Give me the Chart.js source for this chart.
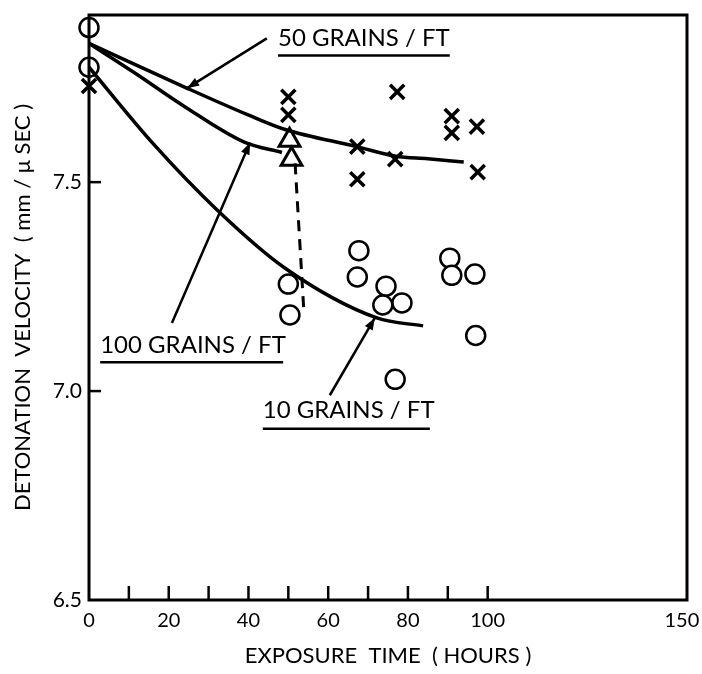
<!DOCTYPE html>
<html>
<head>
<meta charset="utf-8">
<script src="https://cdn.jsdelivr.net/npm/chart.js@4/dist/chart.umd.min.js"></script>
<style>
    html, body { margin: 0; padding: 0; background: #fff; }
    #wrap { width: 702px; height: 674px; }
</style>
</head>
<body>
<div id="wrap"><canvas id="velocity_chart"></canvas></div>
<script>
// measured points, hours vs mm/usec
const circleX = [0, 0, 50, 50.4, 67.7, 67.3, 74.5, 73.7, 78.5, 76.8, 90.5, 91, 96.8, 97];
const circleY = [7.87, 7.775, 7.256, 7.182, 7.336, 7.273, 7.251, 7.206, 7.211, 7.028, 7.318, 7.277, 7.28, 7.133];
const crossX = [0, 50, 50, 67.3, 67.3, 77.3, 76.8, 91, 91, 97.3, 97.5];
const crossY = [7.73, 7.704, 7.661, 7.585, 7.507, 7.716, 7.555, 7.658, 7.618, 7.633, 7.524];
const triangleX = [50.3, 50.8];
const triangleY = [7.60, 7.555];

// fitted curves
const curve50X = [0, 24.1, 39.9, 49.2, 67.2, 77, 85, 94];
const curve50Y = [7.832, 7.727, 7.661, 7.626, 7.585, 7.562, 7.556, 7.548];
const curve100X = [0, 11.5, 24.1, 39.1, 48.4];
const curve100Y = [7.832, 7.761, 7.68, 7.595, 7.571];
const curve10X = [0, 15.8, 32.4, 49.2, 72.2, 83.8];
const curve10Y = [7.775, 7.595, 7.431, 7.294, 7.175, 7.156];
const dashX = [51.7, 53.9];
const dashY = [7.545, 7.19];

const xTicks = [0, 10, 20, 30, 40, 50, 60, 70, 80, 90, 100, 150];
const xLabels = [0, 20, 40, 60, 80, 100, 150];
const yTicks = [6.5, 7.0, 7.5];

// labels with arrows, in data units
const notes = [
    { text: '50 GRAINS / FT', x: 47.4, y: 7.844, x2: 90.5, lineY: 7.803, arrow: [44.6, 7.844, 24.6, 7.725] },
    { text: '100 GRAINS / FT', x: 2.8, y: 7.109, x2: 48.7, lineY: 7.069, arrow: [20.8, 7.163, 40.4, 7.595] },
    { text: '10 GRAINS / FT', x: 43.6, y: 6.953, x2: 85.5, lineY: 6.91, arrow: [60.4, 6.99, 71.7, 7.175] }
];

const fontName = 'Lato, "DejaVu Sans", sans-serif';

function pts(xs, ys) {
    return xs.map((x, i) => ({ x: x, y: ys[i] }));
}

const framePlugin = {
    id: 'frame',
    afterDraw(chart) {
        const ctx = chart.ctx;
        const a = chart.chartArea;
        const xs = chart.scales.x;
        const ys = chart.scales.y;
        ctx.save();
        ctx.strokeStyle = '#000';
        ctx.lineWidth = 3;
        ctx.strokeRect(a.left, a.top, a.right - a.left, a.bottom - a.top);
        // inward ticks
        ctx.lineWidth = 2.5;
        xTicks.forEach(v => {
            if (v === 0 || v === 150) return;
            const px = xs.getPixelForValue(v);
            ctx.beginPath();
            ctx.moveTo(px, a.bottom);
            ctx.lineTo(px, a.bottom - 14);
            ctx.stroke();
        });
        yTicks.forEach(v => {
            if (v === 6.5) return;
            const py = ys.getPixelForValue(v);
            ctx.beginPath();
            ctx.moveTo(a.left, py);
            ctx.lineTo(a.left + 12, py);
            ctx.stroke();
        });

        // notes
        ctx.fillStyle = '#000';
        ctx.font = '24px ' + fontName;
        ctx.textBaseline = 'middle';
        ctx.textAlign = 'left';
        notes.forEach(n => {
            ctx.fillText(n.text, xs.getPixelForValue(n.x), ys.getPixelForValue(n.y));
            ctx.lineWidth = 2.5;
            ctx.beginPath();
            ctx.moveTo(xs.getPixelForValue(n.x), ys.getPixelForValue(n.lineY));
            ctx.lineTo(xs.getPixelForValue(n.x2), ys.getPixelForValue(n.lineY));
            ctx.stroke();
            const x1 = xs.getPixelForValue(n.arrow[0]);
            const y1 = ys.getPixelForValue(n.arrow[1]);
            const x2 = xs.getPixelForValue(n.arrow[2]);
            const y2 = ys.getPixelForValue(n.arrow[3]);
            ctx.lineWidth = 2.5;
            ctx.beginPath();
            ctx.moveTo(x1, y1);
            ctx.lineTo(x2, y2);
            ctx.stroke();
            const ang = Math.atan2(y2 - y1, x2 - x1);
            const len = 12, half = 4.5;
            ctx.beginPath();
            ctx.moveTo(x2, y2);
            ctx.lineTo(x2 - len * Math.cos(ang) + half * Math.sin(ang), y2 - len * Math.sin(ang) - half * Math.cos(ang));
            ctx.lineTo(x2 - len * Math.cos(ang) - half * Math.sin(ang), y2 - len * Math.sin(ang) + half * Math.cos(ang));
            ctx.closePath();
            ctx.fill();
        });
        ctx.restore();
    }
};

const curveStyle = {
    type: 'line',
    showLine: true,
    borderColor: '#000',
    borderWidth: 3.5,
    pointRadius: 0,
    cubicInterpolationMode: 'monotone',
    fill: false
};

const ctx = document.getElementById('velocity_chart').getContext('2d');
const chart = new Chart(ctx, {
    type: 'scatter',
    data: {
        datasets: [
            Object.assign({ label: '50 grains/ft curve', data: pts(curve50X, curve50Y) }, curveStyle),
            Object.assign({ label: '100 grains/ft curve', data: pts(curve100X, curve100Y) }, curveStyle),
            Object.assign({ label: '10 grains/ft curve', data: pts(curve10X, curve10Y) }, curveStyle),
            {
                type: 'line',
                label: 'drop',
                data: pts(dashX, dashY),
                showLine: true,
                borderColor: '#000',
                borderWidth: 3,
                borderDash: [11, 8],
                pointRadius: 0
            },
            {
                label: '10 grains/ft',
                data: pts(circleX, circleY),
                pointStyle: 'circle',
                pointRadius: 9.5,
                borderWidth: 2.5,
                borderColor: '#000',
                backgroundColor: '#fff',
                clip: false
            },
            {
                label: '50 grains/ft',
                data: pts(crossX, crossY),
                pointStyle: 'crossRot',
                pointRadius: 10,
                borderWidth: 3.5,
                borderColor: '#000',
                clip: false
            },
            {
                label: '100 grains/ft',
                data: pts(triangleX, triangleY),
                pointStyle: 'triangle',
                pointRadius: 12,
                borderWidth: 3,
                borderColor: '#000',
                backgroundColor: '#fff'
            }
        ]
    },
    options: {
        animation: false,
        responsive: true,
        maintainAspectRatio: false,
        layout: { padding: { top: 10, right: 15, left: 0, bottom: 0 } },
        plugins: {
            legend: { display: false },
            tooltip: { enabled: false }
        },
        scales: {
            x: {
                type: 'linear',
                min: 0,
                max: 150,
                afterBuildTicks: s => { s.ticks = xTicks.map(v => ({ value: v })); },
                afterFit: s => { s.height = 74; s.paddingLeft = 0; s.paddingRight = 0; },
                grid: { display: false, drawTicks: false },
                border: { display: false },
                ticks: {
                    autoSkip: false,
                    maxRotation: 0,
                    padding: 9,
                    color: '#000',
                    font: { family: fontName, size: 20 },
                    // last label sits at the window edge, pad it so it isn't cut
                    callback: v => {
                        if (!xLabels.includes(v)) return '';
                        return v === 150 ? '150\u00a0\u00a0' : String(v);
                    }
                },
                title: {
                    display: true,
                    text: 'EXPOSURE  TIME  ( HOURS )',
                    color: '#000',
                    font: { family: fontName, size: 22 },
                    padding: { top: 0, bottom: 5 }
                }
            },
            y: {
                type: 'linear',
                min: 6.5,
                max: 7.9,
                afterBuildTicks: s => { s.ticks = yTicks.map(v => ({ value: v })); },
                afterFit: s => { s.width = 89; s.paddingTop = 0; s.paddingBottom = 0; },
                grid: { display: false, drawTicks: false },
                border: { display: false },
                ticks: {
                    padding: 7,
                    color: '#000',
                    font: { family: fontName, size: 21 },
                    callback: v => v.toFixed(1)
                },
                title: {
                    display: true,
                    text: 'DETONATION  VELOCITY  ( mm / μ SEC )',
                    color: '#000',
                    font: { family: fontName, size: 22 },
                    padding: { top: 10, bottom: 0 }
                }
            }
        }
    },
    plugins: [framePlugin]
});
</script>
</body>
</html>
